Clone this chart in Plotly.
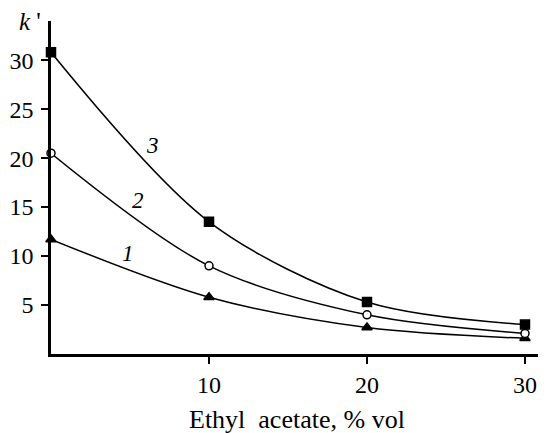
import plotly.graph_objects as go

x_vals = [0, 10, 20, 30]
k1 = [11.7, 5.8, 2.7, 1.6]
k2 = [20.5, 9.0, 4.0, 2.1]
k3 = [30.8, 13.5, 5.3, 3.0]
curve_labels = ["1", "2", "3"]
label_x = [4.9, 5.5, 6.4]
label_y = [10.3, 15.7, 21.3]
x_ticks = [10, 20, 30]
y_ticks = [5, 10, 15, 20, 25, 30]

FONT = "Liberation Serif"
# page body has an 8px default margin; figure is sized so that the plot
# area lands where the reference has it
W, H = 538, 425
L, R, T, B = 43, 0, 13, 79
pw, ph = W - L - R, H - T - B

fig = go.Figure()
series = [
    (k1, "triangle-up", "black", 9),
    (k2, "circle", "white", 8),
    (k3, "square", "black", 9),
]
for ys, sym, fill, sz in series:
    fig.add_trace(go.Scatter(
        x=x_vals, y=ys, mode="lines+markers",
        line=dict(color="black", width=1.5, shape="spline", smoothing=0.9),
        marker=dict(symbol=sym, size=sz, color=fill,
                    line=dict(color="black", width=1.5)),
        cliponaxis=False, showlegend=False))

for t, lx, ly in zip(curve_labels, label_x, label_y):
    fig.add_annotation(x=lx, y=ly, text="<i>%s</i>" % t, showarrow=False,
                       font=dict(family=FONT, size=23, color="black"))

fig.add_annotation(xref="paper", yref="paper", x=-8 / pw, y=1.0,
                   text="<i>k</i>\u00a0'",
                   showarrow=False, xanchor="right", yanchor="middle",
                   font=dict(family=FONT, size=25, color="black"))
fig.add_annotation(xref="paper", yref="paper", x=(297 - 51) / pw, y=-65 / ph,
                   text="Ethyl\u00a0\u00a0acetate, % vol", showarrow=False,
                   xanchor="center", yanchor="middle",
                   font=dict(family=FONT, size=26, color="black"))

fig.update_layout(
    width=W, height=H,
    margin=dict(l=L, r=R, t=T, b=B),
    plot_bgcolor="white", paper_bgcolor="white",
    font=dict(family=FONT, size=24, color="black"),
    xaxis=dict(range=[0, 31.33], tickvals=x_ticks, ticks="outside", ticklen=7,
               tickwidth=2, showgrid=False, zeroline=False, showline=True,
               linecolor="black", linewidth=2.5, tickcolor="black",
               tickfont=dict(family=FONT, size=24)),
    yaxis=dict(range=[0, 34], tickvals=y_ticks, ticks="outside", ticklen=7,
               tickwidth=2, showgrid=False, zeroline=False, showline=True,
               linecolor="black", linewidth=2.5, tickcolor="black",
               ticklabelstandoff=3,
               tickfont=dict(family=FONT, size=24)),
)
fig.write_html("out.html")
